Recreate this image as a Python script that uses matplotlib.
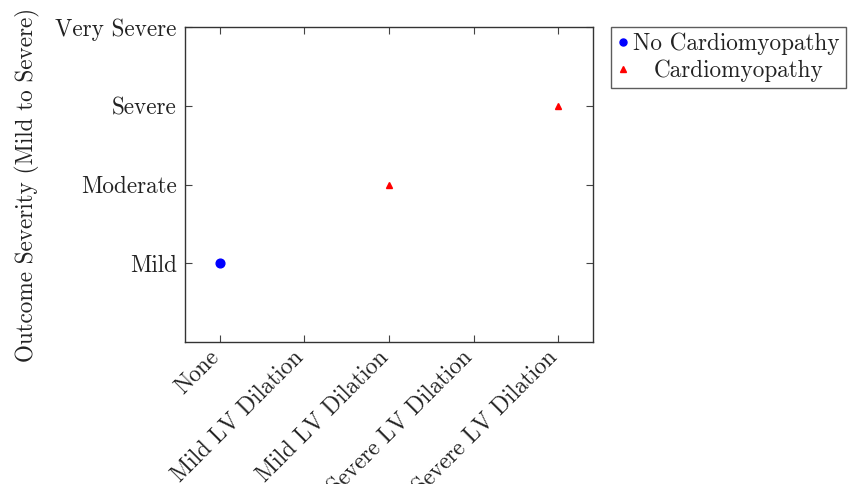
import numpy as np, matplotlib
matplotlib.use('Agg')
import matplotlib.pyplot as plt

plt.rcParams['font.family'] = ['cmr10', 'DejaVu Serif']
plt.rcParams['axes.unicode_minus'] = False

x_labels = ['None', 'Mild LV Dilation', 'Mild LV Dilation',
            'Severe LV Dilation', 'Severe LV Dilation']
y_labels = ['Mild', 'Moderate', 'Severe', 'Very Severe']
y_ticks = [1, 2, 3, 4]

no_cm_x = [0]
no_cm_y = [1]
cm_x = [2, 4]
cm_y = [2, 3]

INK = '#222222'
FS = 16.7

fig = plt.figure(figsize=(8.49, 4.84), dpi=100)
ax = fig.add_axes([0.2179, 0.2934, 0.4806, 0.6508])

ax.plot(no_cm_x, no_cm_y, 'o', color='blue', ms=6.3, label='No Cardiomyopathy', ls='none')
ax.plot(cm_x, cm_y, '^', color='red', ms=5, label='Cardiomyopathy', ls='none')

ax.set_xlim(-0.41, 4.41)
ax.set_ylim(0, 4)
ax.set_xticks(range(len(x_labels)))
ax.set_xticklabels([''] * len(x_labels))
# rotated labels, upper-right end placed at the tick
for i, lab in enumerate(x_labels):
    ax.annotate(lab, xy=(i, 0), xycoords=('data', 'axes fraction'),
                xytext=(-8.6, -3.0), textcoords='offset points',
                rotation=45, rotation_mode='anchor', ha='right', va='top',
                fontsize=FS, color=INK, annotation_clip=False)
ax.set_yticks(y_ticks)
ax.set_yticklabels(y_labels, fontsize=FS, color=INK)
ax.tick_params(direction='in', top=True, right=True, length=5, width=0.8, color='#444444', pad=6)
for s in ax.spines.values():
    s.set_linewidth(1.0)
    s.set_color('#333333')
ax.set_ylabel('Outcome Severity (Mild to Severe)', fontsize=FS, color=INK, labelpad=11)

leg = ax.legend(loc='upper left', bbox_to_anchor=(1.045, 1.0), fontsize=FS,
                frameon=True, fancybox=False, edgecolor='#333333', handlelength=0.5,
                markerscale=0.8, handletextpad=0.2, borderpad=0.25, labelspacing=0.18,
                borderaxespad=0)
leg.get_frame().set_linewidth(1.0)
for t in leg.get_texts():
    t.set_color(INK)
# second entry is centred in the reference legend
leg.get_texts()[1].set_position((20, 0))

plt.savefig('out.png', dpi=100)
